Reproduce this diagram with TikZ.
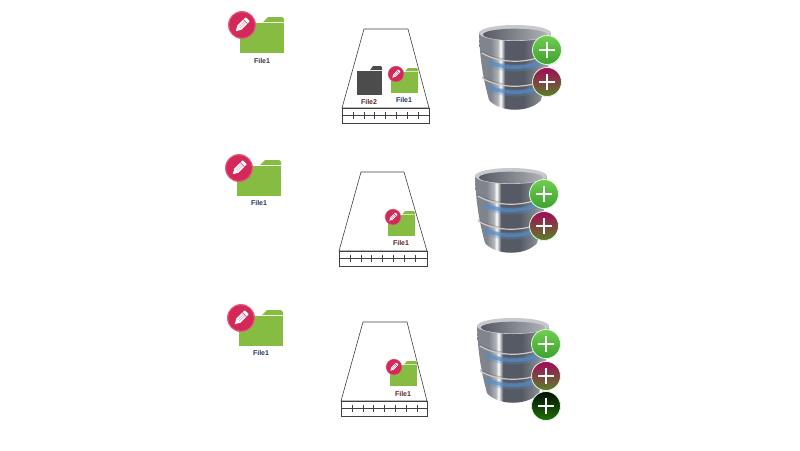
\documentclass[tikz,border=0pt]{standalone}
\usepackage{fontspec}
\setmainfont{Liberation Sans}
\usetikzlibrary{calc}
\definecolor{foldergreen}{RGB}{134,188,66}
\definecolor{folderdark}{RGB}{76,76,76}
\definecolor{badgered}{RGB}{212,40,88}
\definecolor{namedark}{RGB}{50,50,60}
\definecolor{nameblue}{RGB}{30,50,95}
\definecolor{namered}{RGB}{85,35,35}
\definecolor{plusgreenA}{RGB}{112,205,80}
\definecolor{plusgreenB}{RGB}{62,160,48}
\definecolor{plusredA}{RGB}{165,8,92}
\definecolor{plusredB}{RGB}{88,128,40}
\definecolor{plusdarkA}{RGB}{4,14,4}
\definecolor{plusdarkB}{RGB}{32,112,10}
\definecolor{bandblue}{RGB}{84,140,200}
\definecolor{dbdark}{RGB}{86,90,100}
\definecolor{dbmid}{RGB}{128,132,140}
\definecolor{dblight}{RGB}{176,178,182}
\pgfdeclarehorizontalshading{dbbody}{100bp}{color(0bp)=(dbmid); color(25bp)=(dbmid); color(33bp)=(dbmid); color(38bp)=(dblight); color(40bp)=(white); color(41.5bp)=(dblight); color(43bp)=(dbdark); color(56bp)=(dbdark); color(66bp)=(dbmid); color(75bp)=(dblight); color(100bp)=(dblight)}
\pgfdeclarehorizontalshading{dbinner}{100bp}{color(0bp)=(dbdark); color(25bp)=(dbdark); color(50bp)=(dbmid); color(75bp)=(dblight); color(100bp)=(dblight)}
\tikzset{
	filename/.style={font=\bfseries\fontsize{7}{8}\selectfont, inner sep=0pt},
	trayline/.style={line width=0.6pt, color=black!75},
	plusmark/.style={line width=1.2pt, color=white},
	plusring/.style={draw=white!85!green, line width=0.8pt}
}
\newcommand{\folderIcon}[4]{
	\begin{scope}[shift={(#1)},xscale=#2,yscale=#3]
		\fill[#4] (0, 6.4) rectangle (44, 36);
		\fill[#4] (23, 5) -- (28, 0) -- (42, 0) -- (44, 2) -- (44, 5) -- cycle;
	\end{scope}
}
\newcommand{\pencilBadge}[2]{
	\begin{scope}[shift={(#1)},scale=#2]
		\fill[badgered!75!white] (0, 0) circle (14);
		\fill[badgered] (0, 0) circle (12.8);
		\begin{scope}[rotate=45]
			\fill[white] (-3.8, -2.9) -- (7.5, -2.9) -- (8.3, -2) -- (8.3, 2) -- (7.5, 2.9) -- (-3.8, 2.9) -- (-8.8, 0) -- cycle;
			\draw[badgered, line width=0.5pt] (4.8, -2.9) -- (4.8, 2.9);
			\draw[badgered!60!white, line width=0.3pt] (-3.5, -1) -- (4.5, -1);
			\draw[badgered!60!white, line width=0.3pt] (-3.5, 1) -- (4.5, 1);
		\end{scope}
	\end{scope}
}
\newcommand{\trayBox}[5]{
	% top-left, top-right, bottom-left, bottom-right x; top y via scope
	\begin{scope}[shift={(0,#5)}]
		\draw[trayline] (#1, 0) -- (#2, 0) -- (#4, 79) -- (#3, 79) -- cycle;
		\draw[trayline] (#3, 79) rectangle (#4, 94);
		\draw[trayline] (#3, 86.5) -- (#4, 86.5);
		\foreach \t in {1,...,7} {
			\draw[trayline, line width=0.5pt] ($(#3, 83)+(\t*10.9, 0)$) -- ++(0, 7);
		}
	\end{scope}
}
\newcommand{\plusBadge}[3]{
	\begin{scope}[shift={(#1)}]
		\shade[top color=#2, bottom color=#3, plusring] (0, 0) circle (14.5);
		\draw[plusmark] (-8, 0) -- (8, 0);
		\draw[plusmark] (0, -8) -- (0, 8);
	\end{scope}
}
\newcommand{\dbStack}[1]{
	\begin{scope}[shift={(#1)}]
		% body
		\shade[shading=dbbody] (-36, 8) .. controls (-35, 40) and (-30, 60) .. (-26, 75) .. controls (-15, 88) and (15, 88) .. (26, 75) .. controls (30, 60) and (35, 40) .. (36, 8) -- cycle;
		% bands
		\foreach \b in {32,57} {
			\draw[bandblue, opacity=0.3, line width=7pt] (-27, \b+5) .. controls (-12, \b+13) and (12, \b+13) .. (27, \b+5);
			\draw[bandblue, opacity=0.65, line width=3.5pt] (-25, \b+5) .. controls (-12, \b+12) and (12, \b+12) .. (25, \b+5);
			\draw[black!20, line width=1.2pt] (-33, \b-4) .. controls (-15, \b+7) and (15, \b+7) .. (33, \b-4);
			\draw[black!65, opacity=0.35, line width=0.8pt] (-33, \b-5.5) .. controls (-15, \b+5.5) and (15, \b+5.5) .. (33, \b-5.5);
		}
		% rim
		\fill[dblight!70!white] (0, 8) ellipse (36 and 8);
		\shade[shading=dbinner] (0, 9.5) ellipse (32 and 5.8);
	\end{scope}
}
\begin{document}
\begin{tikzpicture}[x=1pt,y=-1pt]
		%%%%% START %%%%%
		\useasboundingbox (0, 0) rectangle (800, 450);

		% first row
		\folderIcon{240, 17}{1}{1}{foldergreen}
		\pencilBadge{242, 25}{1}
		\node[filename, color=namedark] (nameA) at (262, 61) {File1};

		\trayBox{364}{408}{342}{429}{29}
		\folderIcon{357, 66}{0.57}{0.8}{folderdark}
		\node[filename, color=namered] (nameB) at (369, 102) {File2};
		\folderIcon{391, 68}{0.61}{0.69}{foldergreen}
		\pencilBadge{396, 74}{0.58}
		\node[filename, color=nameblue] (nameC) at (404, 100) {File1};

		\dbStack{515, 25}
		\plusBadge{547, 50}{plusgreenA}{plusgreenB}
		\plusBadge{547, 82}{plusredA}{plusredB}

		% second row
		\folderIcon{237, 160}{1}{1}{foldergreen}
		\pencilBadge{239, 168}{1}
		\node[filename, color=nameblue] (nameD) at (259, 203) {File1};

		\trayBox{361}{404}{339}{427}{172}
		\folderIcon{388, 211}{0.61}{0.69}{foldergreen}
		\pencilBadge{393, 217}{0.58}
		\node[filename, color=namered] (nameE) at (401, 243) {File1};

		\dbStack{511, 168}
		\plusBadge{544, 194}{plusgreenA}{plusgreenB}
		\plusBadge{544, 226}{plusredA}{plusredB}

		% third row
		\folderIcon{239, 310}{1}{1}{foldergreen}
		\pencilBadge{241, 318}{1}
		\node[filename, color=nameblue] (nameF) at (261, 353) {File1};

		\trayBox{363}{407}{341}{427}{322}
		\folderIcon{390, 361}{0.61}{0.69}{foldergreen}
		\pencilBadge{394, 367}{0.58}
		\node[filename, color=namered] (nameG) at (403, 394) {File1};

		\dbStack{513, 318}
		\plusBadge{546, 344}{plusgreenA}{plusgreenB}
		\plusBadge{546, 376}{plusredA}{plusredB}
		\plusBadge{546, 406}{plusdarkA}{plusdarkB}

		%%%%% END %%%%%
	\end{tikzpicture}
\end{document}
